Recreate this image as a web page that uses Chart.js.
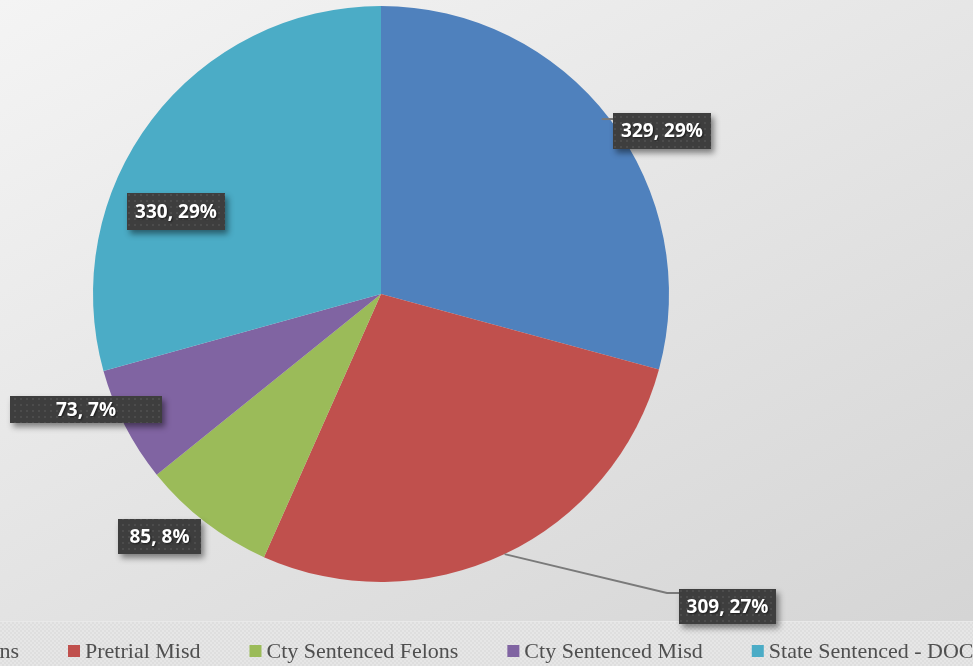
<!DOCTYPE html>
<html>
<head>
<meta charset="utf-8">
<script src="https://cdn.jsdelivr.net/npm/chart.js@4"></script>
<style>
html,body{margin:0;padding:0;overflow:hidden;background:#e6e6e6;}
canvas{display:block;}
</style>
</head>
<body>
<canvas id="c" width="973" height="666"></canvas>
<script>
// ---- data ----
const categories = ["Pretrial Felons", "Pretrial Misd", "Cty Sentenced Felons", "Cty Sentenced Misd", "State Sentenced - DOC"];
const values = [329, 309, 85, 73, 330];
const percentLabels = ["29%", "27%", "8%", "7%", "29%"];

// ---- style ----
const colors = ["#4F81BD", "#C0504D", "#9BBB59", "#8064A2", "#4BACC6"];
const labelRadiusFactor = [1.128, 1.62, 1.14, 1.10, 0.767];
const labelAngleShiftDeg = [7.3, -22.6, 4.8, 5.7, -15.4];
const labelBoxW = [98, 97, 83, 152, 98];
const labelBoxH = [36, 35, 35, 27, 37];

function makePattern(ctx) {
  const p = document.createElement('canvas');
  p.width = 6; p.height = 6;
  const g = p.getContext('2d');
  g.fillStyle = '#3e3e3e'; g.fillRect(0, 0, 6, 6);
  g.fillStyle = '#4c4c4c'; g.fillRect(2, 2, 2, 2);
  return ctx.createPattern(p, 'repeat');
}
function makeChecker(ctx) {
  const p = document.createElement('canvas');
  p.width = 4; p.height = 4;
  const g = p.getContext('2d');
  g.fillStyle = '#dedede'; g.fillRect(0, 0, 4, 4);
  g.fillStyle = '#e6e6e6'; g.fillRect(0, 0, 2, 2); g.fillRect(2, 2, 2, 2);
  return ctx.createPattern(p, 'repeat');
}

const bgPlugin = {
  id: 'bg',
  beforeDraw(chart) {
    const ctx = chart.ctx;
    const W = chart.width, H = chart.height;
    ctx.save();
    const gr = ctx.createLinearGradient(0, 0, 459, 884);
    gr.addColorStop(0, '#f4f4f4');
    gr.addColorStop(1, '#d5d5d5');
    ctx.fillStyle = gr;
    ctx.fillRect(0, 0, W, H);
    ctx.fillStyle = makeChecker(ctx);
    ctx.fillRect(0, 621, W, H - 621);
    ctx.fillStyle = '#e9e9e9';
    ctx.fillRect(0, 621, W, 1);
    ctx.restore();
  }
};

const labelPlugin = {
  id: 'boxLabels',
  afterDatasetsDraw(chart) {
    const ctx = chart.ctx;
    const meta = chart.getDatasetMeta(0);
    const pat = makePattern(ctx);
    ctx.save();
    meta.data.forEach((arc, i) => {
      const p = arc.getProps(['x', 'y', 'startAngle', 'endAngle', 'outerRadius'], true);
      const mid = (p.startAngle + p.endAngle) / 2;
      const a = mid + labelAngleShiftDeg[i] * Math.PI / 180;
      const r = p.outerRadius * labelRadiusFactor[i];
      const cx = p.x + Math.cos(a) * r;
      const cy = p.y + Math.sin(a) * r;
      const w = labelBoxW[i], h = labelBoxH[i];
      const bx = Math.round(cx - w / 2), by = Math.round(cy - h / 2);
      const ex = p.x + Math.cos(mid) * p.outerRadius;
      const ey = p.y + Math.sin(mid) * p.outerRadius;
      ctx.strokeStyle = '#7a7a7a';
      ctx.lineWidth = 2;
      if (i === 1) {
        ctx.beginPath();
        ctx.moveTo(ex, ey);
        ctx.lineTo(bx - 12, by + 4);
        ctx.lineTo(bx, by + 4);
        ctx.stroke();
      } else if (i === 0) {
        ctx.beginPath();
        ctx.moveTo(ex - 8, ey);
        ctx.lineTo(bx, ey);
        ctx.stroke();
      }
      ctx.save();
      ctx.shadowColor = 'rgba(0,0,0,0.45)';
      ctx.shadowBlur = 6;
      ctx.shadowOffsetX = 3;
      ctx.shadowOffsetY = 4;
      ctx.fillStyle = '#3e3e3e';
      ctx.fillRect(bx, by, w, h);
      ctx.restore();
      ctx.fillStyle = pat;
      ctx.fillRect(bx, by, w, h);
      ctx.save();
      ctx.font = 'bold 19px "Open Sans", sans-serif';
      ctx.textAlign = 'center';
      ctx.textBaseline = 'middle';
      ctx.shadowColor = 'rgba(0,0,0,0.6)';
      ctx.shadowBlur = 2;
      ctx.shadowOffsetX = 1;
      ctx.shadowOffsetY = 1;
      ctx.fillStyle = '#ffffff';
      ctx.fillText(values[i] + ', ' + percentLabels[i], bx + w / 2, by + h / 2 + 1);
      ctx.restore();
    });
    ctx.restore();
  }
};

const legendPlugin = {
  id: 'bottomLegend',
  afterDraw(chart) {
    const ctx = chart.ctx;
    ctx.save();
    ctx.font = '22px "Liberation Serif", serif';
    ctx.textBaseline = 'alphabetic';
    const gapAfter = 49, markerToText = 17;
    const widths = categories.map(c => ctx.measureText(c).width);
    let x = 68 - (markerToText + widths[0] + gapAfter);
    categories.forEach((c, i) => {
      ctx.fillStyle = colors[i];
      ctx.fillRect(x, 645, 12, 12);
      ctx.fillStyle = '#4f4f4f';
      ctx.fillText(c, x + markerToText, 658);
      x += markerToText + widths[i] + gapAfter;
    });
    ctx.restore();
  }
};

new Chart(document.getElementById('c'), {
  type: 'pie',
  data: {
    labels: categories,
    datasets: [{
      data: values,
      backgroundColor: colors,
      borderWidth: 0
    }]
  },
  options: {
    responsive: false,
    animation: false,
    layout: { padding: { left: 93, top: 6, right: 304, bottom: 84 } },
    plugins: {
      legend: { display: false },
      tooltip: { enabled: false }
    }
  },
  plugins: [bgPlugin, labelPlugin, legendPlugin]
});
</script>
</body>
</html>
